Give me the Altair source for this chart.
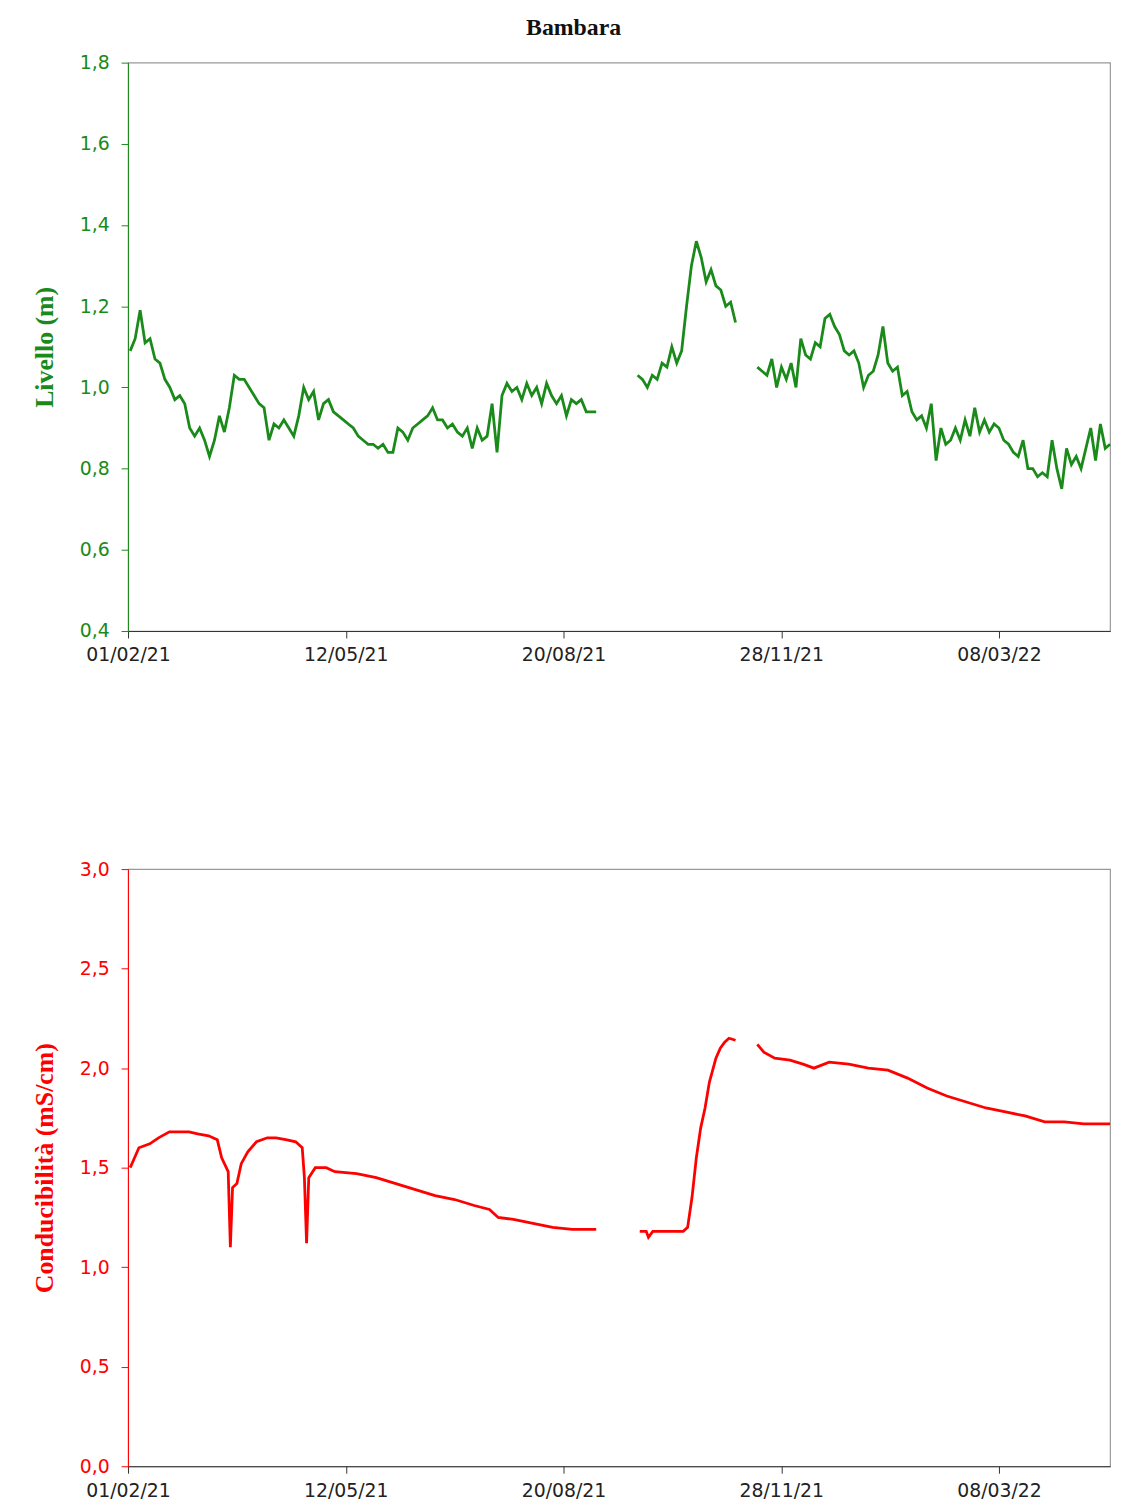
import pandas as pd
import altair as alt

# livello (m), three logged stretches; days from 01/02/21
lev1 = [1.09, 1.12, 1.19, 1.11, 1.12, 1.07, 1.06, 1.02, 1.0, 0.97, 0.98, 0.96, 0.9, 0.88, 0.9, 0.87,
        0.83, 0.87, 0.93, 0.89, 0.95, 1.03, 1.02, 1.02, 1.0, 0.98, 0.96, 0.95, 0.87, 0.91, 0.9, 0.92,
        0.9, 0.88, 0.93, 1.0, 0.97, 0.99, 0.92, 0.96, 0.97, 0.94, 0.93, 0.92, 0.91, 0.9, 0.88, 0.87,
        0.86, 0.86, 0.85, 0.86, 0.84, 0.84, 0.9, 0.89, 0.87, 0.9, 0.91, 0.92, 0.93, 0.95, 0.92, 0.92,
        0.9, 0.91, 0.89, 0.88, 0.9, 0.85, 0.9, 0.87, 0.88, 0.96, 0.84, 0.98, 1.01, 0.99, 1.0, 0.97,
        1.01, 0.98, 1.0, 0.96, 1.01, 0.98, 0.96, 0.98, 0.93, 0.97, 0.96, 0.97, 0.94, 0.94, 0.94]
lev2 = [1.03, 1.02, 1.0, 1.03, 1.02, 1.06, 1.05, 1.1, 1.06, 1.09, 1.2, 1.3, 1.36, 1.32, 1.26, 1.29,
        1.25, 1.24, 1.2, 1.21, 1.16]
lev3 = [1.05, 1.04, 1.03, 1.07, 1.0, 1.05, 1.02, 1.06, 1.0, 1.12, 1.08, 1.07, 1.11, 1.1, 1.17, 1.18,
        1.15, 1.13, 1.09, 1.08, 1.09, 1.06, 1.0, 1.03, 1.04, 1.08, 1.15, 1.06, 1.04, 1.05, 0.98, 0.99,
        0.94, 0.92, 0.93, 0.9, 0.96, 0.82, 0.9, 0.86, 0.87, 0.9, 0.87, 0.92, 0.88, 0.95, 0.89, 0.92,
        0.89, 0.91, 0.9, 0.87, 0.86, 0.84, 0.83, 0.87, 0.8, 0.8, 0.78, 0.79, 0.78, 0.87, 0.8, 0.75,
        0.85, 0.81, 0.83, 0.8, 0.85, 0.9, 0.82, 0.91, 0.85, 0.86]
lev_spans = [(1, 215), (234, 279), (289, 451)]

# conducibilità (mS/cm)
cond_days1 = [1, 3, 5, 10, 14, 19, 23, 28, 32, 37, 41, 43, 46, 47, 48, 50, 52, 55, 59, 64, 68, 73, 77,
              80, 81, 82, 83, 86, 91, 95, 105, 114, 123, 132, 141, 150, 159, 166, 170, 177, 186, 195,
              204, 215]
cond1 = [1.5, 1.55, 1.6, 1.62, 1.65, 1.68, 1.68, 1.68, 1.67, 1.66, 1.64, 1.55, 1.48, 1.1, 1.4, 1.42,
         1.52, 1.58, 1.63, 1.65, 1.65, 1.64, 1.63, 1.6, 1.45, 1.12, 1.45, 1.5, 1.5, 1.48, 1.47, 1.45,
         1.42, 1.39, 1.36, 1.34, 1.31, 1.29, 1.25, 1.24, 1.22, 1.2, 1.19, 1.19]
cond_days2 = [235, 238, 239, 241, 245, 249, 255, 257, 259, 261, 263, 265, 267, 270, 272, 274, 276, 279]
cond2 = [1.18, 1.18, 1.15, 1.18, 1.18, 1.18, 1.18, 1.2, 1.35, 1.55, 1.7, 1.8, 1.93, 2.05, 2.1, 2.13,
         2.15, 2.14]
cond_days3 = [289, 292, 297, 304, 310, 315, 322, 331, 340, 349, 358, 367, 376, 385, 394, 403, 412,
              421, 430, 439, 451]
cond3 = [2.12, 2.08, 2.05, 2.04, 2.02, 2.0, 2.03, 2.02, 2.0, 1.99, 1.95, 1.9, 1.86, 1.83, 1.8, 1.78,
         1.76, 1.73, 1.73, 1.72, 1.72]

tick_days = [0, 100, 200, 300, 400]

rows = []
for seg, (vals, (d0, d1)) in enumerate(zip([lev1, lev2, lev3], lev_spans)):
    n = len(vals)
    for i, v in enumerate(vals):
        rows.append({"day": d0 + (d1 - d0) * i / (n - 1), "v": v, "seg": seg})
lev = pd.DataFrame(rows)

rows = []
for seg, (ds, vals) in enumerate(zip([cond_days1, cond_days2, cond_days3], [cond1, cond2, cond3])):
    rows += [{"day": d, "v": v, "seg": seg} for d, v in zip(ds, vals)]
cond = pd.DataFrame(rows)

xlab = "timeFormat(datetime(2021, 1, 1 + datum.value), '%d/%m/%y')"
ylab = "replace(format(datum.value, '.1f'), '.', ',')"


def panel(df, color, title, ymin, ymax, step, h):
    x = alt.X("day:Q", scale=alt.Scale(domain=[0, 451], nice=False, zero=False), title=None,
              axis=alt.Axis(values=tick_days, labelExpr=xlab, grid=False, domainColor="#333",
                            tickColor="#333", labelColor="#222", labelFontSize=19,
                            labelFont="DejaVu Sans", labelPadding=8, tickSize=7,
                            labelFlush=False))
    vals = [round(ymin + step * i, 2) for i in range(int(round((ymax - ymin) / step)) + 1)]
    y = alt.Y("v:Q", scale=alt.Scale(domain=[ymin, ymax], nice=False, zero=False), title=title,
              axis=alt.Axis(values=vals, labelExpr=ylab, grid=False, domainColor=color,
                            tickColor=color, labelColor=color, labelFontSize=19,
                            labelFont="DejaVu Sans", titleColor=color, titleFontSize=26,
                            titleFont="Liberation Serif", titleFontWeight="bold",
                            labelPadding=12, titlePadding=22, tickSize=7, labelFlush=False))
    return alt.Chart(df).mark_line(color=color, strokeWidth=2.8).encode(
        x=x, y=y, detail="seg:N").properties(width=990, height=h)


top = panel(lev, "#1a8a1a", "Livello (m)", 0.4, 1.8, 0.2, 573)
bottom = panel(cond, "#ff0000", "Conducibilità (mS/cm)", 0.0, 3.0, 0.5, 602)

chart = alt.vconcat(top, bottom, spacing=195).properties(
    padding={"left": 23, "top": 2, "right": 0, "bottom": 0},
    title=alt.TitleParams("Bambara", font="Liberation Serif", fontSize=24, fontWeight="bold",
                          color="#111", offset=13, anchor="middle")
).configure_view(stroke="#999", strokeWidth=1.2)

chart.save("out.html", embed_options={"renderer": "svg", "actions": False})
